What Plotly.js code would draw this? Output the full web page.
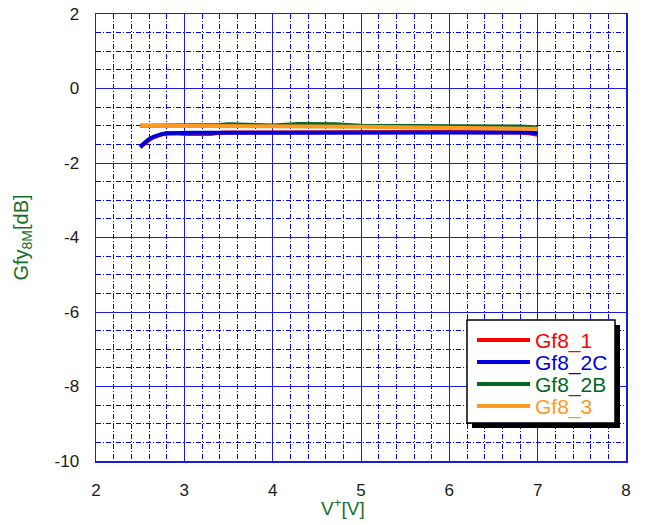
<!DOCTYPE html>
<html>
<head>
<meta charset="utf-8">
<script src="https://cdn.plot.ly/plotly-3.0.1.min.js"></script>
<style>html,body{margin:0;padding:0;background:#fff;}#chart{width:647px;height:525px;}</style>
</head>
<body>
<div id="chart"></div>
<script>
const seriesNames = ["Gf8_1", "Gf8_2C", "Gf8_2B", "Gf8_3"];
const seriesColors = ["#ff0000", "#0000dd", "#006622", "#ff9922"];

const xTickVals = [2, 3, 4, 5, 6, 7, 8];
const xTickText = ["2", "3", "4", "5", "6", "7", "8"];
const yTickVals = [2, 0, -2, -4, -6, -8, -10];
const yTickText = ["2", "0", "-2", "-4", "-6", "-8", "-10"];

const xRed  = [2.5, 2.55, 2.6, 2.65, 2.7, 2.75, 2.8, 2.9, 3.0, 3.1, 3.2, 3.3, 3.4, 3.5, 4.0, 4.5, 5.0, 5.5, 6.0, 6.5, 6.8, 6.9, 7.0];
const yRed  = [-1.58, -1.47, -1.38, -1.31, -1.26, -1.23, -1.21, -1.2, -1.22, -1.22, -1.22, -1.22, -1.19, -1.18, -1.18, -1.17, -1.17, -1.17, -1.17, -1.17, -1.18, -1.2, -1.24];

const xBlue = [2.5, 2.55, 2.6, 2.65, 2.7, 2.75, 2.8, 2.9, 3.0, 3.1, 3.2, 3.3, 3.4, 3.5, 4.0, 4.5, 5.0, 5.5, 6.0, 6.5, 6.8, 6.9, 7.0];
const yBlue = [-1.56, -1.45, -1.36, -1.3, -1.25, -1.22, -1.2, -1.19, -1.19, -1.19, -1.19, -1.19, -1.18, -1.17, -1.17, -1.17, -1.17, -1.17, -1.17, -1.17, -1.17, -1.18, -1.2];

const xGreen = [2.5, 3.0, 3.4, 3.5, 3.7, 4.0, 4.3, 4.5, 4.7, 5.0, 5.5, 5.8, 6.0, 6.2, 6.5, 6.8, 7.0];
const yGreen = [-1.0, -1.0, -0.98, -0.96, -0.98, -0.99, -0.95, -0.95, -0.96, -1.0, -1.01, -1.0, -1.02, -1.01, -1.01, -1.02, -1.05];

const xOrange = [2.5, 3.0, 3.5, 4.0, 4.5, 5.0, 5.5, 6.0, 6.5, 7.0];
const yOrange = [-1.0, -1.0, -1.0, -1.0, -1.02, -1.03, -1.04, -1.05, -1.06, -1.08];

const xs = [xRed, xBlue, xGreen, xOrange];
const ys = [yRed, yBlue, yGreen, yOrange];

const traces = seriesNames.map((n, i) => ({
  x: xs[i], y: ys[i], type: 'scatter', mode: 'lines',
  name: n, showlegend: false,
  line: {color: seriesColors[i], width: 4}
}));

// plot area in pixels, used to place the hand-drawn legend box
const W = 647, H = 525, L = 96, R = 21, T = 14, B = 64;
const pw = W - L - R, ph = H - T - B;
const px = v => (v - L) / pw;
const py = v => (H - B - v) / ph;

const legLeft = 467, legTop = 320, legRight = 615, legBottom = 423;
const rowY = [340, 362, 384, 406];

const shapes = [
  {type: 'rect', xref: 'paper', yref: 'paper', layer: 'above',
   x0: px(legLeft + 5), x1: px(legRight + 5), y0: py(legBottom + 5), y1: py(legTop + 5),
   fillcolor: '#000', line: {width: 0}},
  {type: 'rect', xref: 'paper', yref: 'paper', layer: 'above',
   x0: px(legLeft), x1: px(legRight), y0: py(legBottom), y1: py(legTop),
   fillcolor: '#fff', line: {color: '#000', width: 1.5}}
];
const annotations = [];
seriesNames.forEach((n, i) => {
  shapes.push({type: 'line', xref: 'paper', yref: 'paper', layer: 'above',
    x0: px(477), x1: px(530), y0: py(rowY[i]), y1: py(rowY[i]),
    line: {color: seriesColors[i], width: 4}});
  annotations.push({xref: 'paper', yref: 'paper', x: px(533), y: py(rowY[i] + 1),
    xanchor: 'left', yanchor: 'middle', showarrow: false, text: n,
    font: {size: 21, color: seriesColors[i], family: 'Liberation Sans, Arial, sans-serif'}});
});
annotations.push({xref: 'paper', yref: 'paper', x: px(343), y: py(507),
  xanchor: 'center', yanchor: 'middle', showarrow: false, text: 'V<sup>+</sup>[V]',
  font: {size: 19, color: '#1a6e2a', family: 'Liberation Sans, Arial, sans-serif'}});

const gridBlue = '#1a1ae0';
const minorBlue = '#0000ff';
const layout = {
  width: W, height: H,
  margin: {l: L, r: R, t: T, b: B},
  paper_bgcolor: '#fff', plot_bgcolor: '#fff',
  font: {family: 'Liberation Sans, Arial, sans-serif', size: 17, color: '#1a1a1a'},
  showlegend: false,
  xaxis: {
    range: [2, 8], tickmode: 'array', tickvals: xTickVals, ticktext: xTickText,
    showgrid: true, gridcolor: gridBlue, gridwidth: 1,
    zeroline: false, showline: true, mirror: true, linecolor: gridBlue, linewidth: 1.5,
    ticks: '', ticklabelstandoff: 13,
    minor: {dtick: 0.2, tick0: 2, showgrid: true, gridcolor: minorBlue, griddash: '5px,2px,1px,2px', gridwidth: 1}
  },
  yaxis: {
    range: [-10, 2], tickmode: 'array', tickvals: yTickVals, ticktext: yTickText,
    showgrid: true, gridcolor: gridBlue, gridwidth: 1,
    zeroline: false, showline: true, mirror: true, linecolor: gridBlue, linewidth: 1.5,
    ticks: '', ticklabelstandoff: 12,
    minor: {dtick: 0.5, tick0: 0, showgrid: true, gridcolor: minorBlue, griddash: '5px,2px,1px,2px', gridwidth: 1},
    title: {text: 'Gfy<sub>8M</sub>[dB]', font: {color: '#1a6e2a', size: 20}, standoff: 20}
  },
  shapes: shapes,
  annotations: annotations
};

Plotly.newPlot('chart', traces, layout, {displayModeBar: false, staticPlot: true});
</script>
</body>
</html>
